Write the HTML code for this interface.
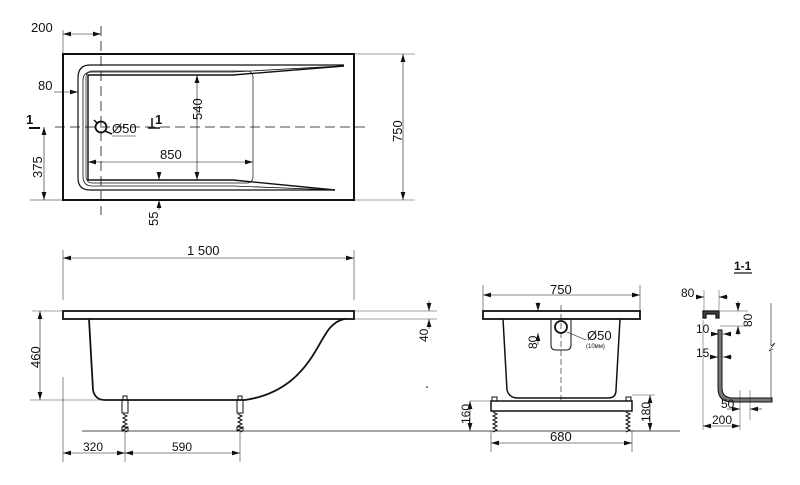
<!DOCTYPE html>
<html><head><meta charset="utf-8"><style>
html,body{margin:0;padding:0;background:#fff}
svg{display:block}
text{font-family:"Liberation Sans",sans-serif;fill:#111}
</style></head><body>
<svg width="800" height="485" viewBox="0 0 800 485" xmlns="http://www.w3.org/2000/svg">
<defs>
<marker id="a" viewBox="0 0 10 6" refX="10" refY="3" markerWidth="8" markerHeight="5" orient="auto-start-reverse" markerUnits="userSpaceOnUse"><path d="M0,0L10,3L0,6z" fill="#111"/></marker>
</defs>
<g stroke="#111" fill="none">
<rect x="63" y="54" width="291" height="146" stroke-width="2"/>
<path d="M344,65 H90 Q78,65 78,78 V178 Q78,190 90,190 H335" stroke-width="1.2"/>
<path d="M340,66 L233,72 H92 Q83,72 83,80 V176 Q83,186 92,186 H233 L335,190" stroke-width="0.8"/>
<path d="M344,66 L233,75 H88 V180 H233 L335,190" stroke-width="1.4"/>
<rect x="86" y="71" width="167" height="112" rx="6" stroke-width="0.7"/>
<line x1="55" y1="127" x2="368" y2="127" stroke-width="0.8" stroke-dasharray="10,5"/>
<line x1="101" y1="26" x2="101" y2="215" stroke-width="0.8" stroke-dasharray="10,5"/>
<circle cx="101" cy="127" r="5.5" stroke-width="1.8"/>
<line x1="94" y1="120" x2="98" y2="124" stroke-width="1.5"/>
<line x1="105" y1="131" x2="112" y2="134" stroke-width="1.5"/>
<path d="M112,136 H136" stroke-width="0.5"/>
<line x1="63" y1="30" x2="63" y2="54" stroke-width="0.5"/>
<line x1="63" y1="34" x2="101" y2="34" stroke-width="0.6" marker-start="url(#a)" marker-end="url(#a)"/>
<line x1="54" y1="92" x2="78" y2="92" stroke-width="0.6" marker-end="url(#a)"/>
<line x1="197" y1="75" x2="197" y2="180" stroke-width="0.6" marker-start="url(#a)" marker-end="url(#a)"/>
<line x1="88" y1="162" x2="253" y2="162" stroke-width="0.6" marker-start="url(#a)" marker-end="url(#a)"/>
<line x1="44" y1="127" x2="44" y2="200" stroke-width="0.6" marker-start="url(#a)" marker-end="url(#a)"/>
<line x1="30" y1="200" x2="63" y2="200" stroke-width="0.5"/>
<line x1="159" y1="172" x2="159" y2="180" stroke-width="0.6" marker-end="url(#a)"/>
<line x1="159" y1="210" x2="159" y2="200" stroke-width="0.6" marker-end="url(#a)"/>
<line x1="403" y1="54" x2="403" y2="200" stroke-width="0.6" marker-start="url(#a)" marker-end="url(#a)"/>
<line x1="354" y1="54" x2="415" y2="54" stroke-width="0.4"/>
<line x1="354" y1="200" x2="415" y2="200" stroke-width="0.4"/>
<path d="M29,128 H40" stroke-width="2"/>
<path d="M152,118 V127 M148,128 H160" stroke-width="1.5"/>
<line x1="63" y1="250" x2="63" y2="300" stroke-width="0.5"/>
<line x1="354" y1="250" x2="354" y2="300" stroke-width="0.5"/>
<line x1="63" y1="258" x2="354" y2="258" stroke-width="0.6" marker-start="url(#a)" marker-end="url(#a)"/>
<rect x="63" y="311" width="291" height="8" stroke-width="1.8"/>
<path d="M89,319 L93,390 Q95,400 105,400 H245 C300,392 315,350 325,335 Q333,321 345,319" stroke-width="1.8"/>
<line x1="82" y1="431" x2="680" y2="431" stroke-width="0.8"/>
<line x1="30" y1="400" x2="125" y2="400" stroke-width="0.4"/>
<line x1="32" y1="311" x2="63" y2="311" stroke-width="0.4"/>
<line x1="40" y1="311" x2="40" y2="400" stroke-width="0.6" marker-start="url(#a)" marker-end="url(#a)"/>
<line x1="354" y1="311" x2="437" y2="311" stroke-width="0.4"/>
<line x1="354" y1="319" x2="437" y2="319" stroke-width="0.4"/>
<line x1="429" y1="301" x2="429" y2="311" stroke-width="0.6" marker-end="url(#a)"/>
<line x1="429" y1="329" x2="429" y2="319" stroke-width="0.6" marker-end="url(#a)"/>
<g stroke-width="1"><rect x="122" y="400" width="6" height="13"/><rect x="123" y="396" width="4" height="4"/><path d="M123,414 l4,2 l-4,2 l4,2 l-4,2 l4,2 l-4,2 l4,2 l-4,2 l4,2"/><rect x="122" y="427" width="6" height="4"/>
<rect x="237" y="400" width="6" height="13"/><rect x="238" y="396" width="4" height="4"/><path d="M238,414 l4,2 l-4,2 l4,2 l-4,2 l4,2 l-4,2 l4,2 l-4,2 l4,2"/><rect x="237" y="427" width="6" height="4"/></g>
<line x1="63" y1="377" x2="63" y2="462" stroke-width="0.5"/>
<line x1="125" y1="432" x2="125" y2="462" stroke-width="0.5"/>
<line x1="240" y1="432" x2="240" y2="462" stroke-width="0.5"/>
<line x1="63" y1="453" x2="125" y2="453" stroke-width="0.6" marker-start="url(#a)" marker-end="url(#a)"/>
<line x1="125" y1="453" x2="240" y2="453" stroke-width="0.6" marker-start="url(#a)" marker-end="url(#a)"/>
<line x1="426" y1="387" x2="428" y2="387" stroke-width="1"/>
<rect x="483" y="311" width="157" height="8" stroke-width="1.8"/>
<path d="M503,319 L507,390 Q509,398 518,398 H608 Q616,398 616,390 L620,319" stroke-width="1.5"/>
<rect x="491" y="401" width="141" height="10" stroke-width="1.5"/>
<rect x="492" y="397" width="5" height="4" stroke-width="1"/><rect x="626" y="397" width="5" height="4" stroke-width="1"/>
<path d="M493,412 l4,2 l-4,2 l4,2 l-4,2 l4,2 l-4,2 l4,2 l-4,2 l4,2 l-4,2" stroke-width="1"/>
<path d="M626,412 l4,2 l-4,2 l4,2 l-4,2 l4,2 l-4,2 l4,2 l-4,2 l4,2 l-4,2" stroke-width="1"/>
<line x1="561" y1="305" x2="561" y2="400" stroke-width="0.6" stroke-dasharray="6,3"/>
<path d="M551,320 V345 Q551,350 556,350 H566 Q571,350 571,345 V320" stroke-width="1"/>
<circle cx="561" cy="327" r="6" stroke-width="1.8"/>
<line x1="567" y1="332" x2="586" y2="340" stroke-width="0.6"/>
<line x1="538" y1="302" x2="538" y2="311" stroke-width="0.6" marker-end="url(#a)"/>
<line x1="538" y1="345" x2="538" y2="333" stroke-width="0.6" marker-end="url(#a)"/>
<line x1="483" y1="285" x2="483" y2="311" stroke-width="0.5"/>
<line x1="640" y1="285" x2="640" y2="311" stroke-width="0.5"/>
<line x1="483" y1="295" x2="640" y2="295" stroke-width="0.6" marker-start="url(#a)" marker-end="url(#a)"/>
<line x1="491" y1="431" x2="491" y2="452" stroke-width="0.5"/>
<line x1="632" y1="431" x2="632" y2="452" stroke-width="0.5"/>
<line x1="491" y1="443" x2="632" y2="443" stroke-width="0.6" marker-start="url(#a)" marker-end="url(#a)"/>
<line x1="470" y1="401" x2="490" y2="401" stroke-width="0.4"/>
<line x1="470" y1="401" x2="470" y2="431" stroke-width="0.6" marker-start="url(#a)" marker-end="url(#a)"/>
<line x1="632" y1="395" x2="655" y2="395" stroke-width="0.4"/>
<line x1="650" y1="395" x2="650" y2="431" stroke-width="0.6" marker-start="url(#a)" marker-end="url(#a)"/>
<line x1="734" y1="273" x2="752" y2="273" stroke-width="1.2"/>
<path d="M703,318 V311 H719 V318 H716 V314 H706 V318 Z" stroke-width="1.2" fill="#444"/>
<path d="M718,330 V388 Q718,402 732,402 H772 V398 H733 Q722,398 722,388 V330 Z" stroke-width="1" fill="#777"/>
<line x1="771" y1="303" x2="771" y2="346" stroke-width="0.6"/>
<path d="M771,346 l4,-3 l-6,8 l4,-2" stroke-width="0.6"/>
<line x1="771" y1="351" x2="771" y2="398" stroke-width="0.6"/>
<line x1="704" y1="290" x2="704" y2="311" stroke-width="0.4"/>
<line x1="719" y1="290" x2="719" y2="311" stroke-width="0.4"/>
<line x1="696" y1="297" x2="704" y2="297" stroke-width="0.6" marker-end="url(#a)"/>
<line x1="728" y1="297" x2="719" y2="297" stroke-width="0.6" marker-end="url(#a)"/>
<line x1="720" y1="311" x2="748" y2="311" stroke-width="0.4"/>
<line x1="720" y1="326" x2="748" y2="326" stroke-width="0.4"/>
<line x1="738" y1="301" x2="738" y2="311" stroke-width="0.6" marker-end="url(#a)"/>
<line x1="738" y1="335" x2="738" y2="326" stroke-width="0.6" marker-end="url(#a)"/>
<line x1="712" y1="334" x2="719" y2="334" stroke-width="0.6" marker-end="url(#a)"/>
<line x1="731" y1="334" x2="723" y2="334" stroke-width="0.6" marker-end="url(#a)"/>
<line x1="710" y1="357" x2="718" y2="357" stroke-width="0.6" marker-end="url(#a)"/>
<line x1="732" y1="357" x2="723" y2="357" stroke-width="0.6" marker-end="url(#a)"/>
<line x1="703" y1="320" x2="703" y2="430" stroke-width="0.4"/>
<line x1="740" y1="390" x2="740" y2="430" stroke-width="0.4"/>
<line x1="750" y1="390" x2="750" y2="420" stroke-width="0.4"/>
<line x1="727" y1="409" x2="740" y2="409" stroke-width="0.6" marker-end="url(#a)"/>
<line x1="762" y1="409" x2="750" y2="409" stroke-width="0.6" marker-end="url(#a)"/>
<line x1="703" y1="426" x2="740" y2="426" stroke-width="0.6" marker-start="url(#a)" marker-end="url(#a)"/>
</g>
<g font-size="13">
<text x="31" y="32">200</text>
<text x="38" y="90">80</text>
<text x="26" y="124" font-weight="bold">1</text>
<text x="155" y="124" font-weight="bold">1</text>
<text x="112" y="133">Ø50</text>
<text x="160" y="159">850</text>
<text transform="translate(202,120) rotate(-90)">540</text>
<text transform="translate(42,178) rotate(-90)">375</text>
<text transform="translate(158,226) rotate(-90)">55</text>
<text transform="translate(402,142) rotate(-90)">750</text>
<text x="187" y="255">1 500</text>
<text transform="translate(40,368) rotate(-90)">460</text>
<text transform="translate(428,342) rotate(-90)" font-size="12">40</text>
<text x="83" y="451" font-size="12">320</text>
<text x="172" y="451" font-size="12">590</text>
<text x="550" y="294">750</text>
<text x="550" y="441">680</text>
<text transform="translate(537,349) rotate(-90)" font-size="12">80</text>
<text x="587" y="340">Ø50</text>
<text x="586" y="348" font-size="6">(10мм)</text>
<text transform="translate(470,424) rotate(-90)" font-size="12">160</text>
<text transform="translate(650,422) rotate(-90)" font-size="12">180</text>
<text x="734" y="270" font-weight="bold" font-size="12">1-1</text>
<text x="681" y="297" font-size="12">80</text>
<text transform="translate(752,327) rotate(-90)" font-size="12">80</text>
<text x="696" y="333" font-size="12">10</text>
<text x="696" y="357" font-size="12">15</text>
<text x="721" y="408" font-size="12">50</text>
<text x="712" y="424" font-size="12">200</text>
</g>
</svg>
</body></html>
